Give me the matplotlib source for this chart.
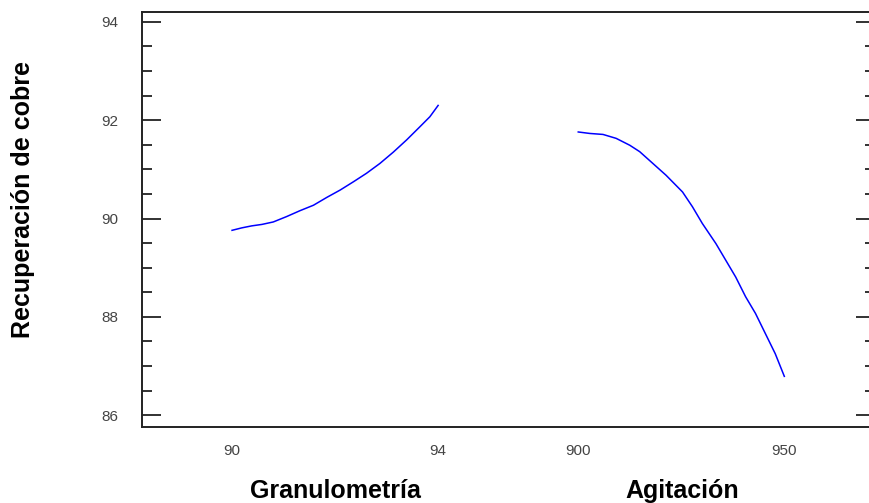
import matplotlib.pyplot as plt
from matplotlib.ticker import MultipleLocator

plt.rcParams['font.family'] = ['Liberation Sans', 'DejaVu Sans']

# Efecto principal: Granulometría
granulometria = [90.0, 90.19, 90.38, 90.58, 90.80, 91.06, 91.32, 91.58, 91.84,
                 92.10, 92.36, 92.61, 92.87, 93.13, 93.39, 93.65, 93.84, 94.0]
recup_gran = [89.76, 89.81, 89.85, 89.88, 89.93, 90.04, 90.16, 90.27, 90.43,
              90.58, 90.75, 90.92, 91.12, 91.35, 91.60, 91.87, 92.07, 92.30]

# Efecto principal: Agitación
agitacion = [900.0, 902.8, 906.0, 909.2, 912.5, 914.9, 918.1, 921.3, 925.3, 927.7,
             930.1, 933.4, 935.8, 938.2, 940.6, 943.0, 945.4, 947.8, 950.0]
recup_agit = [91.76, 91.73, 91.71, 91.63, 91.49, 91.36, 91.12, 90.88, 90.54, 90.24,
              89.90, 89.49, 89.15, 88.81, 88.41, 88.07, 87.66, 87.25, 86.79]

gran_lim = (90, 94)
agit_lim = (900, 950)
gran_ticks = [90, 94]
agit_ticks = [900, 950]

# cada factor ocupa un segmento de ancho 1 en el eje x
off1, off2 = 0.0, 1.68


def pos(v, lim, off):
    return [off + (x - lim[0]) / (lim[1] - lim[0]) for x in v]


fig = plt.figure(figsize=(8.7, 5.03), dpi=100)
ax = fig.add_axes([142 / 870, 1 - 427 / 503, (875 - 142) / 870, 415 / 503])

ax.plot(pos(granulometria, gran_lim, off1), recup_gran, color='#0000ff', lw=1.1)
ax.plot(pos(agitacion, agit_lim, off2), recup_agit, color='#0000ff', lw=1.1)

ax.set_xlim(-0.437, 3.12)
ax.set_ylim(85.76, 94.2)

xt = pos(gran_ticks, gran_lim, off1) + pos(agit_ticks, agit_lim, off2)
xl = [str(t) for t in gran_ticks] + [str(t) for t in agit_ticks]
ax.set_xticks(xt)
ax.set_xticklabels(xl)
ax.tick_params(axis='x', length=0, pad=12, labelsize=11, labelcolor='#444444')

ax.yaxis.set_major_locator(MultipleLocator(2))
ax.yaxis.set_minor_locator(MultipleLocator(0.5))
ax.tick_params(axis='y', which='both', direction='in', left=True, right=True,
               labelsize=11, labelcolor='#444444', pad=17, width=1.3, color='#222222')
ax.tick_params(axis='y', which='major', length=14)
ax.tick_params(axis='y', which='minor', length=7)

for s in ax.spines.values():
    s.set_linewidth(1.4)
    s.set_color('#222222')
ax.spines['right'].set_visible(False)

fig.text(335 / 870, 1 - 498 / 503, 'Granulometría', ha='center', va='baseline',
         fontsize=18, fontweight='bold')
fig.text(682 / 870, 1 - 498 / 503, 'Agitación', ha='center', va='baseline',
         fontsize=18, fontweight='bold')
fig.text(23 / 870, 1 - 200 / 503, 'Recuperación de cobre', ha='center', va='center',
         rotation=90, fontsize=18, fontweight='bold')

fig.savefig('out.png', dpi=100)
